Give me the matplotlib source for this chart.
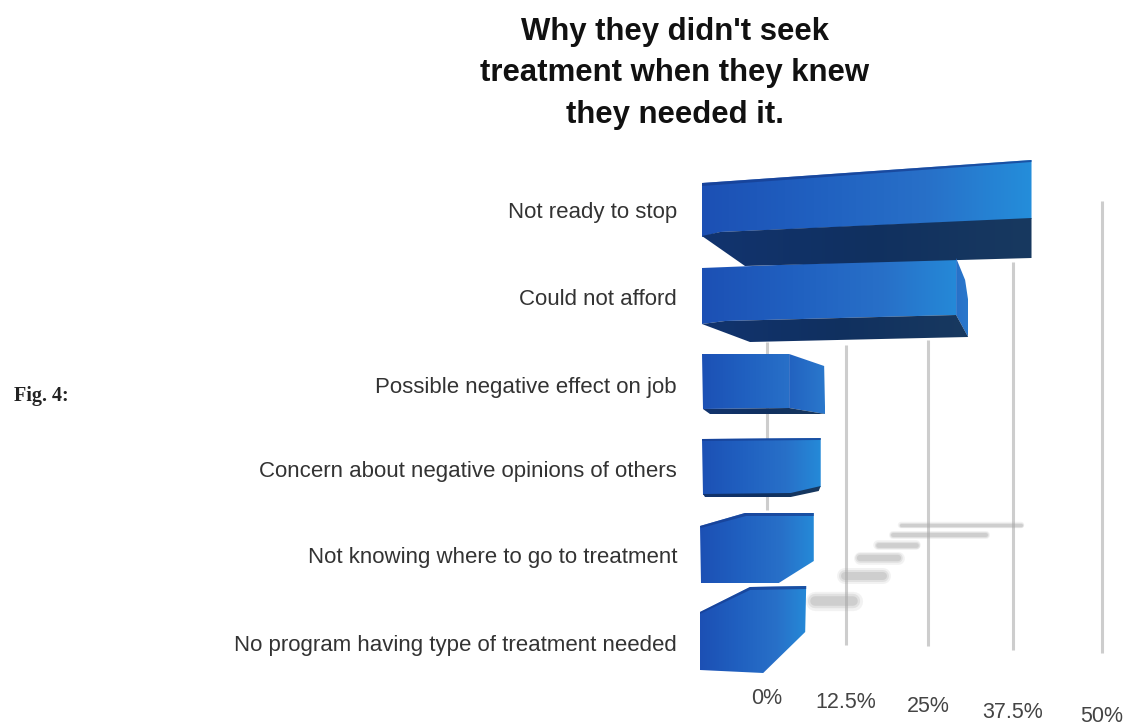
import numpy as np
import matplotlib
matplotlib.use("Agg")
import matplotlib.pyplot as plt
from matplotlib.colors import LinearSegmentedColormap
from matplotlib.patches import Polygon

# Survey data
reasons = [
    "Not ready to stop",
    "Could not afford",
    "Possible negative effect on job",
    "Concern about negative opinions of others",
    "Not knowing where to go to treatment",
    "No program having type of treatment needed",
]
shares = [40.1, 30.9, 9.2, 8.5, 7.4, 6.2]
tick_values = [0, 12.5, 25, 37.5, 50]
tick_labels = ["0%", "12.5%", "25%", "37.5%", "50%"]
title_lines = "Why they didn't seek\ntreatment when they knew\nthey needed it."

# Perspective layout: the value axis is slightly stretched to the right
TICK_PX = [767, 846, 928, 1013, 1102]
TICK_LABEL_Y = [699, 702, 706, 713, 716]
GRID_SPAN = [(342, 510), (345, 645), (340, 646), (262, 650), (201, 653)]
LABEL_Y = [212, 299, 387, 471, 558, 645]
BAR_LEFT = 700

# Faces of each block, as (anchor, dx, y): anchor 0 is the bar's base, 1 its value end
FACES = [
    {"front": [(0, 2, 183), (1, 0, 160), (1, 0, 219), (0, 20, 232), (0, 2, 237)],
     "dark": [(0, 2, 236), (0, 20, 232), (1, 0, 218), (1, 0, 258), (0, 45, 266)],
     "rim": [(0, 2, 183), (1, 0, 160), (1, 0, 162), (0, 2, 186)]},
    {"front": [(0, 2, 268), (1, -12, 258), (1, -12, 315), (0, 25, 321), (0, 2, 324)],
     "dark": [(0, 2, 324), (0, 25, 321), (1, -12, 315), (1, 0, 337), (0, 50, 342)],
     "side": [(1, -12, 258), (1, -3, 280), (1, 0, 300), (1, 0, 337), (1, -12, 315)]},
    {"front": [(0, 2, 354), (1, -36, 354), (1, -36, 408), (0, 3, 409)],
     "side": [(1, -36, 354), (1, -1, 366), (1, 0, 414), (1, -36, 408)],
     "dark": [(0, 3, 409), (1, -36, 408), (1, 0, 414), (0, 10, 414)]},
    {"front": [(0, 2, 439), (1, 0, 438), (1, 0, 487), (1, -30, 494), (0, 3, 495)],
     "dark": [(0, 3, 494), (1, -30, 493), (1, 0, 486), (1, -2, 491), (1, -30, 497), (0, 5, 497)],
     "rim": [(0, 2, 439), (1, 0, 438), (1, 0, 440), (0, 2, 441)]},
    {"front": [(0, 0, 526), (0, 45, 513), (1, 0, 513), (1, 0, 561), (1, -35, 583), (0, 1, 583)],
     "rim": [(0, 0, 526), (0, 45, 513), (1, 0, 513), (1, 0, 516), (0, 46, 516), (0, 1, 528)]},
    {"front": [(0, 0, 612), (0, 50, 587), (1, 0, 586), (1, -1, 632), (1, -43, 673), (0, 0, 670)],
     "rim": [(0, 0, 612), (0, 50, 587), (1, 0, 586), (1, 0, 589), (0, 50, 590), (0, 0, 614)]},
]

# Floor reflections: row height, starting pixel and thickness, one per bar
SHADOW_Y = [525, 535, 545, 558, 576, 601]
SHADOW_X = [901, 893, 878, 860, 845, 815]
SHADOW_T = [4, 5, 6, 8, 10, 12]
SHADOW_SCALE = 3.0
SHADOW_MIN = 38

plt.rcParams["font.family"] = ["Liberation Sans", "DejaVu Sans"]

fig = plt.figure(figsize=(11.25, 7.25), dpi=100)
ax = fig.add_axes([0, 0, 1, 1])

front_cmap = LinearSegmentedColormap.from_list("front", ["#1c50b4", "#2060c0", "#2870c8", "#2490dc"])
dark_cmap = LinearSegmentedColormap.from_list("dark", ["#12346f", "#103060", "#18395f"])
side_cmap = LinearSegmentedColormap.from_list("side", ["#2262c0", "#2a78cc"])
ramp = np.linspace(0, 1, 256).reshape(1, -1)


def value_to_px(value):
    return np.interp(value, tick_values, TICK_PX)


def face_xy(face, right):
    return [((1 - a) * BAR_LEFT + a * right + dx, y) for a, dx, y in face]


def fill_face(points, cmap, x0, x1, zorder):
    patch = Polygon(points, closed=True, facecolor="none", edgecolor="none", zorder=zorder)
    ax.add_patch(patch)
    image = ax.imshow(ramp, cmap=cmap, extent=(x0, x1, 725, 0), aspect="auto",
                      zorder=zorder, interpolation="bilinear")
    image.set_clip_path(patch)


# Grid lines stand on the floor behind the bars
for px, (y0, y1) in zip(TICK_PX, GRID_SPAN):
    ax.plot([px, px], [y0, y1], color="#cdcdcd", lw=2.2, solid_capstyle="butt", zorder=1)

# Soft grey reflections on the floor
for share, x0, y, thick in zip(shares, SHADOW_X, SHADOW_Y, SHADOW_T):
    length = max(share * SHADOW_SCALE, SHADOW_MIN)
    for factor, alpha in [(1.6, 0.14), (1.2, 0.22), (0.8, 0.32)]:
        ax.plot([x0, x0 + length], [y, y], color="#a8a8a8", lw=thick * factor * 0.72, alpha=alpha,
                solid_capstyle="round", zorder=2)

# Blocks
for share, faces in zip(shares, FACES):
    right = value_to_px(share)
    fill_face(face_xy(faces["front"], right), front_cmap, BAR_LEFT, right + 8, 3)
    if "side" in faces:
        fill_face(face_xy(faces["side"], right), side_cmap, right - 36, right, 4)
    if "dark" in faces:
        fill_face(face_xy(faces["dark"], right), dark_cmap, BAR_LEFT, right, 4)
    if "rim" in faces:
        ax.add_patch(Polygon(face_xy(faces["rim"], right), closed=True, facecolor="#163f93",
                             edgecolor="none", alpha=0.75, zorder=5))

# Category labels
for reason, y in zip(reasons, LABEL_Y):
    ax.text(677, y, reason, ha="right", va="center", fontsize=16, color="#333333")

# Value labels, stepping down with the floor's tilt
for label, px, y in zip(tick_labels, TICK_PX, TICK_LABEL_Y):
    ax.text(px, y, label, ha="center", va="center", fontsize=15.5, color="#444444")

ax.text(675, 73, title_lines, ha="center", va="center", fontsize=22.4, fontweight="bold",
        color="#111111", linespacing=1.5)
ax.text(14, 396, "Fig. 4:", ha="left", va="center", fontsize=14.5, fontweight="bold",
        family=["Liberation Serif", "DejaVu Serif"], color="#222222")

ax.set_xlim(0, 1125)
ax.set_ylim(725, 0)
ax.axis("off")
fig.savefig("out.png", dpi=100, facecolor="white")
